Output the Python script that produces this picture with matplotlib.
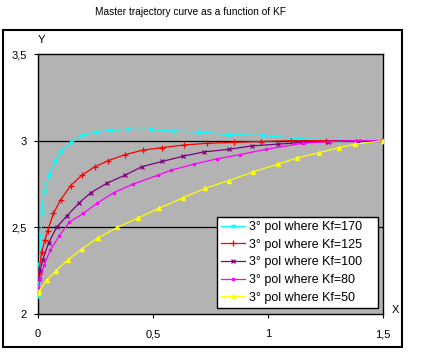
import matplotlib
matplotlib.use("Agg")
import matplotlib.pyplot as plt
from matplotlib.patches import Rectangle

plt.rcParams['font.family'] = ['Liberation Sans', 'DejaVu Sans']

title = "Master trajectory curve as a function of KF"
labels = ["3° pol where Kf=170", "3° pol where Kf=125", "3° pol where Kf=100",
          "3° pol where Kf=80", "3° pol where Kf=50"]

x_kf170 = [0.0, 0.006, 0.013, 0.017, 0.027, 0.048, 0.075, 0.10, 0.145, 0.19, 0.255,
           0.316, 0.39, 0.49, 0.59, 0.70, 0.83, 0.98, 1.14, 1.31, 1.5]
y_kf170 = [2.10, 2.29, 2.45, 2.59, 2.71, 2.80, 2.88, 2.94, 2.99, 3.03, 3.05,
           3.06, 3.065, 3.065, 3.055, 3.05, 3.035, 3.03, 3.01, 3.005, 3.0]

x_kf125 = [0.003, 0.016, 0.030, 0.042, 0.067, 0.099, 0.142, 0.19, 0.248, 0.306, 0.38,
           0.455, 0.54, 0.636, 0.736, 0.85, 0.97, 1.1, 1.25, 1.5]
y_kf125 = [2.23, 2.36, 2.425, 2.48, 2.58, 2.66, 2.74, 2.80, 2.85, 2.885, 2.92,
           2.945, 2.96, 2.975, 2.985, 2.99, 2.995, 3.0, 3.0, 3.0]

x_kf100 = [0.003, 0.010, 0.020, 0.046, 0.081, 0.125, 0.178, 0.23, 0.30, 0.377, 0.452,
           0.54, 0.63, 0.72, 0.83, 0.93, 1.045, 1.15, 1.26, 1.39, 1.5]
y_kf100 = [2.20, 2.25, 2.31, 2.41, 2.50, 2.565, 2.64, 2.70, 2.755, 2.80, 2.85,
           2.88, 2.91, 2.935, 2.95, 2.97, 2.98, 2.99, 2.995, 3.0, 3.0]

x_kf80 = [0.002, 0.009, 0.026, 0.054, 0.092, 0.136, 0.197, 0.258, 0.33, 0.414, 0.52,
          0.58, 0.68, 0.777, 0.88, 0.99, 1.15, 1.27, 1.38, 1.5]
y_kf80 = [2.15, 2.20, 2.28, 2.37, 2.45, 2.53, 2.58, 2.64, 2.70, 2.75, 2.80,
          2.83, 2.865, 2.895, 2.92, 2.95, 2.985, 2.995, 3.0, 3.0]

x_kf50 = [0.002, 0.006, 0.038, 0.078, 0.129, 0.19, 0.262, 0.345, 0.436, 0.527, 0.63,
          0.726, 0.83, 0.936, 1.045, 1.125, 1.22, 1.31, 1.38, 1.5]
y_kf50 = [2.12, 2.135, 2.195, 2.25, 2.31, 2.375, 2.44, 2.50, 2.555, 2.61, 2.67,
          2.725, 2.77, 2.82, 2.865, 2.90, 2.93, 2.96, 2.98, 3.0]

xs = [x_kf170, x_kf125, x_kf100, x_kf80, x_kf50]
ys = [y_kf170, y_kf125, y_kf100, y_kf80, y_kf50]
colors = ['#00ffff', '#ff0000', '#800080', '#ff00ff', '#ffff00']
markers = ['x', '+', 'x', 's', '^']
msizes = [3.5, 4, 3, 2, 3]

x_ticks = [0, 0.5, 1, 1.5]
x_ticklabels = ["0", "0,5", "1", "1,5"]
y_ticks = [2, 2.5, 3, 3.5]
y_ticklabels = ["2", "2,5", "3", "3,5"]

fig = plt.figure(figsize=(4.4, 3.54), dpi=100)
W, H = 440, 354
fig.patches.append(Rectangle((3 / W, 1 - 347 / H), 399 / W, 317 / H,
                             transform=fig.transFigure, fill=False,
                             edgecolor='black', linewidth=1.5, zorder=0))

ax = fig.add_axes([38 / W, 1 - 314 / H, 345 / W, 260 / H])
ax.set_facecolor('#b3b3b3')
ax.set_xlim(0, 1.5)
ax.set_ylim(2, 3.5)

for yv in [2.5, 3.0]:
    ax.axhline(yv, color='black', linewidth=0.9, zorder=1)

for xv, yv, c, m, ms, lab in zip(xs, ys, colors, markers, msizes, labels):
    ax.plot(xv, yv, color=c, linewidth=0.9, marker=m, markersize=ms,
            markeredgewidth=0.9, label=lab, zorder=3)

for s in ax.spines.values():
    s.set_color('black')
    s.set_linewidth(1.0)

ax.set_xticks(x_ticks)
ax.set_xticklabels(x_ticklabels)
ax.set_yticks(y_ticks)
ax.set_yticklabels(y_ticklabels)
ax.tick_params(axis='y', direction='out', length=3, width=0.8, pad=5, labelsize=8)
ax.tick_params(axis='x', direction='out', length=3, width=0.8, pad=8, labelsize=8)

fig.text(190 / W, 1 - 12 / H, title, ha='center', va='center', fontsize=7.3)
fig.text(41 / W, 1 - 40 / H, "Y", ha='center', va='center', fontsize=8)
fig.text(395 / W, 1 - 310 / H, "X", ha='center', va='center', fontsize=8)

leg = ax.legend(loc='lower left',
                bbox_to_anchor=((217 - 38) / 345, (314 - 308) / 260,
                                (378 - 217) / 345, (308 - 201) / 260),
                mode='expand', fontsize=9, frameon=True, fancybox=False,
                edgecolor='black', facecolor='white', framealpha=1,
                borderpad=0.35, labelspacing=0.45, handlelength=1.9,
                handletextpad=0.3, borderaxespad=0)
leg.get_frame().set_linewidth(1.0)

fig.savefig("out.png", dpi=100)
